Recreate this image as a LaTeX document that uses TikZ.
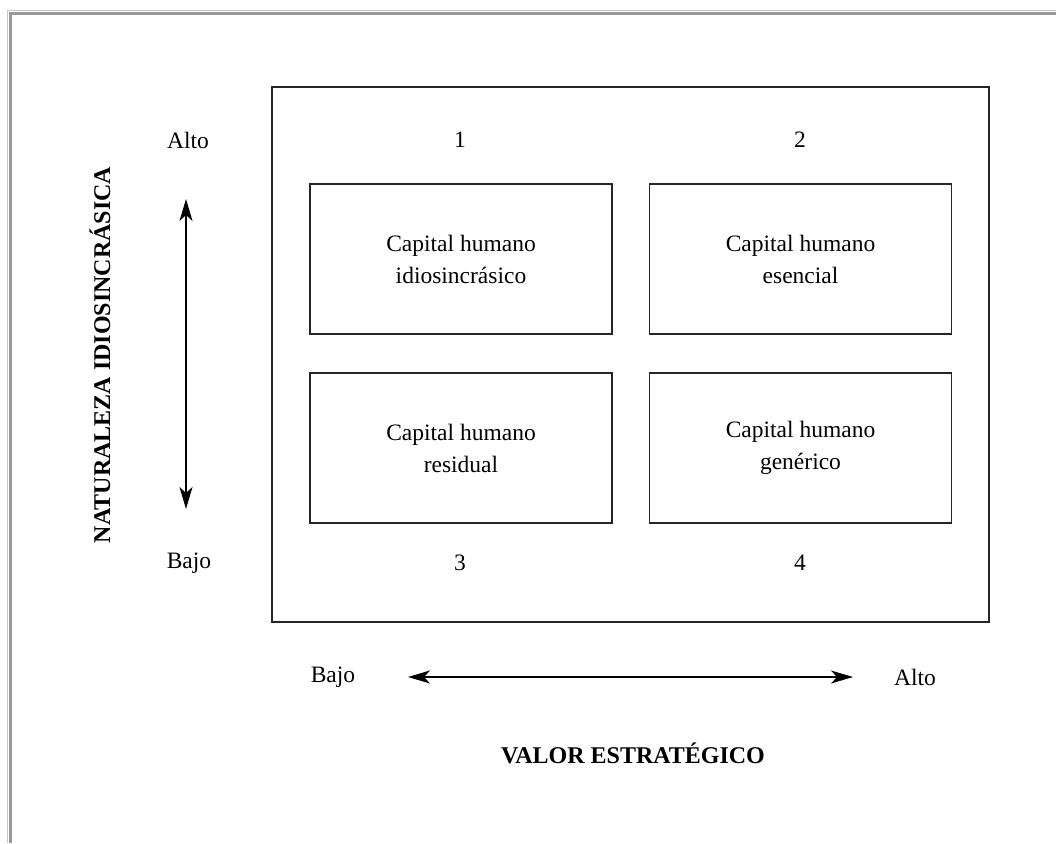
\documentclass[tikz,border=0pt]{standalone}
\usepackage{fontspec}
\setmainfont{Liberation Serif}
\usetikzlibrary{arrows.meta}
\begin{document}
\begin{tikzpicture}[x=1pt,y=-1pt,
  cell/.style={draw=black!85,line width=1.3pt,minimum width=302pt,minimum height=150pt,inner sep=0pt,align=center,font=\fontsize{23.5}{32}\selectfont},
  lbl/.style={font=\fontsize{23.5}{32}\selectfont,inner sep=0pt},
  ttl/.style={font=\fontsize{24}{32}\selectfont\bfseries,inner sep=0pt},
  dbl/.style={line width=1.3pt,{Stealth[length=22pt,width=13pt,inset=6pt]}-{Stealth[length=22pt,width=13pt,inset=6pt]}}]
\useasboundingbox (0,0) rectangle (1056,843);
% page frame
\draw[black!22,line width=1pt] (7.5,843) -- (7.5,10.5) -- (1056,10.5);
\draw[black!40,line width=3pt] (10.5,843) -- (10.5,13.5) -- (1056,13.5);
% outer box
\node[draw=black!85,line width=1.3pt,minimum width=717pt,minimum height=535pt,inner sep=0pt] (outer) at (630.5,354.5) {};
% cells
\node[cell] (c1) at (461,259) {Capital humano\\idiosincrásico};
\node[cell] (c2) at (800.5,259) {Capital humano\\esencial};
\node[cell] (c3) at (461,448) {Capital humano\\residual};
\node[cell] (c4) at (800.5,448) {Capital humano\\genérico};
% labels
\node[lbl] (alto1) at (188,140) {Alto};
\node[lbl] (n1) at (460,140) {1};
\node[lbl] (n2) at (800,140) {2};
\node[lbl] (bajo1) at (189,563) {Bajo};
\node[lbl] (n3) at (460,563) {3};
\node[lbl] (n4) at (800,563) {4};
\node[lbl] (bajo2) at (333,677) {Bajo};
\node[lbl] (alto2) at (915,677) {Alto};
\node[ttl] (vx) at (633,753) {VALOR ESTRATÉGICO};
\node[ttl,rotate=90] (vy) at (100,355) {NATURALEZA IDIOSINCRÁSICA};
% arrows
\coordinate (vt) at (186,199);
\coordinate (vb) at (186,509);
\draw[dbl] (vt) -- (vb);
\coordinate (hl) at (408,677);
\coordinate (hr) at (853,677);
\draw[dbl] (hl) -- (hr);
\end{tikzpicture}
\end{document}
